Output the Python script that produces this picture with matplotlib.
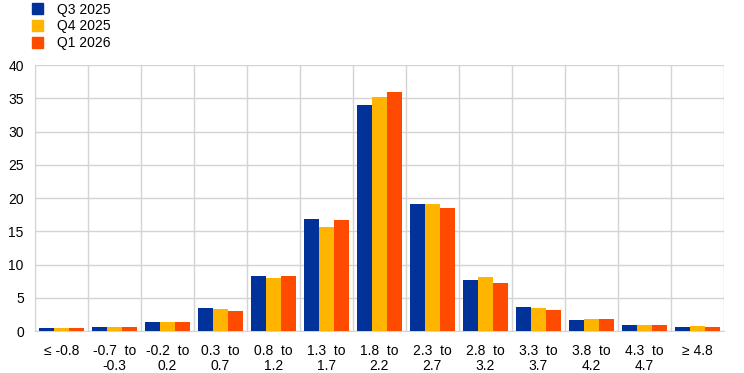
import matplotlib.pyplot as plt
import numpy as np
from matplotlib.patches import Patch

plt.rcParams['font.family'] = ['Liberation Sans', 'DejaVu Sans']

categories = ["\u2264 -0.8", "-0.7  to\n-0.3", "-0.2  to\n0.2", "0.3  to\n0.7", "0.8  to\n1.2",
              "1.3  to\n1.7", "1.8  to\n2.2", "2.3  to\n2.7", "2.8  to\n3.2", "3.3  to\n3.7",
              "3.8  to\n4.2", "4.3  to\n4.7", "\u2265 4.8"]
q3_2025 = [0.5, 0.6, 1.4, 3.5, 8.3, 16.8, 34.0, 19.1, 7.7, 3.6, 1.7, 0.9, 0.6]
q4_2025 = [0.5, 0.6, 1.4, 3.3, 8.0, 15.6, 35.2, 19.1, 8.1, 3.5, 1.8, 0.9, 0.8]
q1_2026 = [0.5, 0.6, 1.4, 3.0, 8.3, 16.7, 35.9, 18.5, 7.2, 3.2, 1.8, 0.9, 0.6]
series = [("Q3 2025", q3_2025, "#003299"),
          ("Q4 2025", q4_2025, "#FFB400"),
          ("Q1 2026", q1_2026, "#FF4B00")]

fig = plt.figure(figsize=(7.44, 3.73), dpi=100)
ax = fig.add_axes([0.047, 0.1126, 0.926, 0.713])

x = np.arange(len(categories))
w = 0.285
for i, (name, vals, col) in enumerate(series):
    ax.bar(x + (i - 1) * w, vals, width=w, color=col, zorder=3)

ax.set_xlim(-0.5, len(categories) - 0.5)
ax.set_ylim(0, 40)
ax.set_yticks(range(0, 41, 5))
ax.set_xticks(x)
ax.set_xticklabels(categories, fontsize=10, linespacing=1.15)
ax.set_xticks(np.arange(-0.5, len(categories), 1), minor=True)
ax.tick_params(axis='both', which='both', length=0, labelsize=10)
ax.tick_params(axis='x', pad=9)
ax.tick_params(axis='y', pad=8)
ax.grid(True, which='major', axis='y', color='#d4d4d4', linewidth=1, zorder=0)
ax.grid(True, which='minor', axis='x', color='#d4d4d4', linewidth=1, zorder=0)
for s in ['top', 'right']:
    ax.spines[s].set_visible(False)
for s in ['left', 'bottom']:
    ax.spines[s].set_color('#d4d4d4')

handles = [Patch(color=c, label=n) for n, _, c in series]
fig.legend(handles=handles, loc='upper left', bbox_to_anchor=(0.036, 1.008), frameon=False,
           fontsize=10, handlelength=0.8, handleheight=0.8, labelspacing=0.2, handletextpad=1.0,
           borderaxespad=0)

fig.savefig("out.png", dpi=100)
